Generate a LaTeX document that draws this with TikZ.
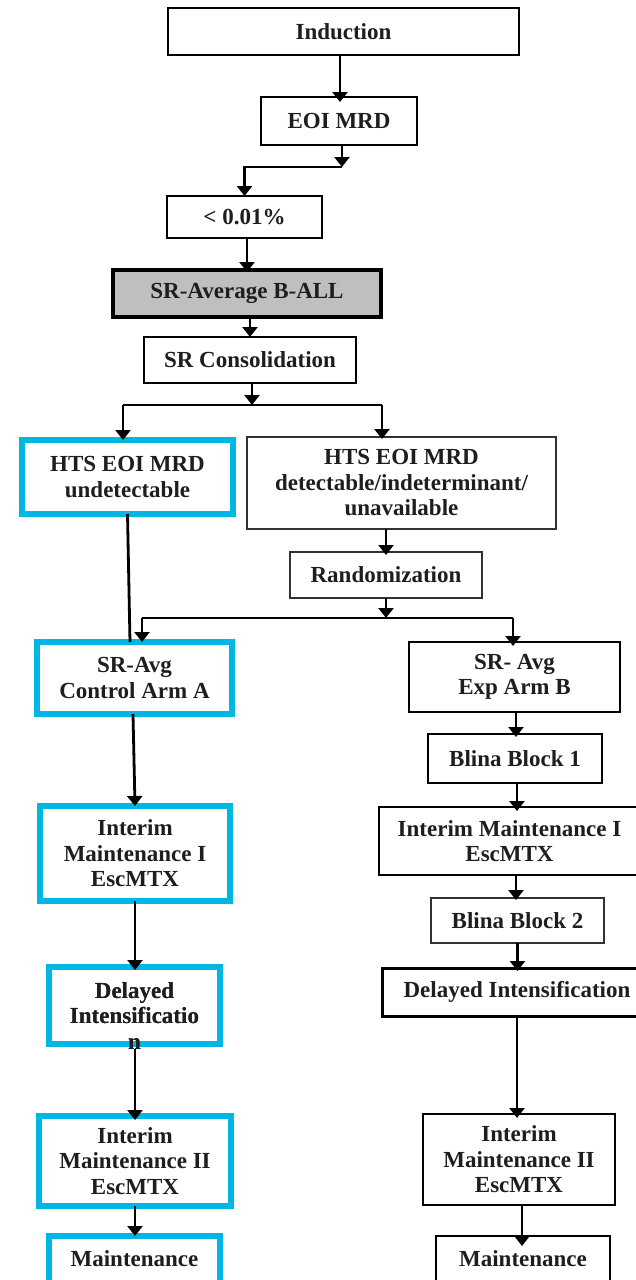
\documentclass[tikz,border=0pt]{standalone}
\usepackage{fontspec}
\setmainfont{Liberation Serif}
\usetikzlibrary{arrows.meta,calc}
\definecolor{txt}{RGB}{30,30,30}
\definecolor{cyanb}{RGB}{0,182,228}
\definecolor{grayfill}{RGB}{191,191,191}
\definecolor{thin}{RGB}{50,50,50}
\begin{document}
\begin{tikzpicture}[x=1pt,y=-1pt,
  every node/.style={font=\bfseries\fontsize{23}{25.5}\selectfont, text=txt, align=center, inner sep=2pt, outer sep=0pt},
  plainbox/.style={draw=black, line width=1.8pt, fill=white},
  thinbox/.style={draw=thin, line width=1.4pt, fill=white},
  bluebox/.style={draw=cyanb, line width=6pt, fill=white},
  greybox/.style={draw=black, line width=4.5pt, fill=grayfill},
  arr/.style={draw=black, line width=2.8pt, -{Triangle[width=15pt,length=10pt]}},
  conn/.style={draw=black, line width=2.8pt},
  txtonly/.style={inner sep=0pt}
]
\path[use as bounding box, clip] (0,0) rectangle (636,1280);
\fill[white] (0,0) rectangle (636,1280);

% top chain
\node[plainbox, line width=2.2pt, minimum width=351pt, minimum height=47pt] (ind) at (343.5,31.5) {Induction};
\node[plainbox, minimum width=156pt, minimum height=48pt] (eoi) at (339,121) {EOI MRD};
\node[plainbox, minimum width=155pt, minimum height=42pt] (lt) at (244.5,217) {< 0.01\%};
\node[greybox, minimum width=268pt, minimum height=47pt] (sravg) at (247,293.5) {SR-Average B-ALL};
\node[plainbox, minimum width=212pt, minimum height=46pt] (srcons) at (250,360) {SR Consolidation};

% split
\node[bluebox, minimum width=211pt, minimum height=74pt] (htsU) at (127.5,477) {HTS EOI MRD\\undetectable};
\node[thinbox, minimum width=309pt, minimum height=92pt] (htsD) at (401.5,483) {HTS EOI MRD\\detectable/indeterminant/\\unavailable};
\node[thinbox, minimum width=192pt, minimum height=46pt] (rand) at (386,575) {Randomization};

% left arm
\node[bluebox, minimum width=195pt, minimum height=72pt] (ctrl) at (134.5,678) {SR-Avg\\Control Arm A};
\node[bluebox, minimum width=190pt, minimum height=95pt] (imIL) at (135,853.5) {Interim\\Maintenance I\\EscMTX};
\node[bluebox, minimum width=171pt, minimum height=77pt] (diL) at (134.5,1005.5) {};
\node[txtonly] (diLt) at (134.5,1016) {Delayed\\Intensificatio\\n};
\node[bluebox, minimum width=192pt, minimum height=90pt] (imIIL) at (135,1161) {Interim\\Maintenance II\\EscMTX};
\node[bluebox, minimum width=171pt, minimum height=74pt] (mL) at (134.5,1273) {};
\node[txtonly] (mLt) at (134.5,1259) {Maintenance};

% right arm
\node[plainbox, minimum width=211pt, minimum height=70pt] (expB) at (514.5,677) {SR- Avg\\Exp Arm B};
\node[plainbox, minimum width=174pt, minimum height=49pt] (bb1) at (515,758.5) {Blina Block 1};
\node[plainbox, line width=2.2pt, minimum width=261pt, minimum height=68pt] (imIR) at (509.5,841) {Interim Maintenance I\\EscMTX};
\node[thinbox, minimum width=173pt, minimum height=45pt] (bb2) at (517.5,920.5) {Blina Block 2};
\node[plainbox, line width=3pt, minimum width=270pt, minimum height=48pt] (diR) at (517,992) {Delayed Intensification};
\node[plainbox, line width=2.2pt, minimum width=192pt, minimum height=91pt] (imIIR) at (519,1159.5) {Interim\\Maintenance II\\EscMTX};
\node[plainbox, line width=2.2pt, minimum width=174pt, minimum height=74pt] (mR) at (523,1273) {};
\node[txtonly] (mRt) at (523,1259) {Maintenance};

% junction coordinates
\coordinate (j1) at (342,167);
\coordinate (jL) at (123,405);
\coordinate (jR) at (382,405);
\coordinate (kL) at (142,618);
\coordinate (kR) at (513,618);

% connectors top
\draw[arr] ([xshift=-3.5pt]ind.south) -- ([xshift=-3.5pt,yshift=-5pt]ind.south |- eoi.north);
\draw[arr] (eoi.south -| j1) -- (j1);
\draw[arr] (j1) -| (lt.north);
\draw[arr] (lt.south -| sravg.north) -- ([yshift=-2pt]sravg.north);
\draw[arr] (sravg.south -| srcons.north) -- (srcons.north);
\draw[arr] ([xshift=2pt]srcons.south) -- ([xshift=2pt]srcons.south |- jL);
\draw[conn] (jL) -- (jR);
\draw[arr] (jL) -- (jL |- htsU.north);
\draw[arr] (jR) -- ([yshift=-2pt]jR |- htsD.north);

% middle
\draw[conn] (htsU.south) -- ([xshift=-4.5pt]ctrl.north);
\draw[arr] (htsD.south -| rand.north) -- ([yshift=-3pt]rand.north);
\draw[arr] (rand.south) -- (rand.south |- kL);
\draw[conn] (kL) -- (kR);
\draw[arr] (kL) -- (kL |- ctrl.north);
\draw[arr] (kR) -- ([yshift=-4pt]kR |- expB.north);

% left arm connectors
\draw[arr] ([xshift=-1.5pt]ctrl.south) -- (imIL.north);
\draw[arr] (imIL.south) -- ([yshift=-3pt]imIL.south |- diL.north);
\draw[arr] (diLt.south -| imIIL.north) -- ([yshift=-4pt]imIIL.north);
\draw[arr] (imIIL.south) -- (imIIL.south |- mL.north);

% right arm connectors
\draw[arr] ([xshift=1.5pt]expB.south) -- ([xshift=1.5pt,yshift=-3pt]expB.south |- bb1.north);
\draw[arr] ([xshift=2pt]bb1.south) -- ([xshift=2pt,yshift=-4pt]bb1.south |- imIR.north);
\draw[arr] ([xshift=-1.5pt]imIR.south -| bb2.north) -- ([xshift=-1.5pt,yshift=-2pt]bb2.north);
\draw[arr] (bb2.south) -- ([yshift=-3pt]bb2.south |- diR.north);
\draw[arr] (diR.south) -- ([yshift=-4pt]diR.south |- imIIR.north);
\draw[arr] ([xshift=3pt]imIIR.south) -- ([xshift=3pt,yshift=-10pt]imIIR.south |- mR.north);

% redraw text over the border
\node[txtonly] at (diLt) {Delayed\\Intensificatio\\n};
\end{tikzpicture}
\end{document}
